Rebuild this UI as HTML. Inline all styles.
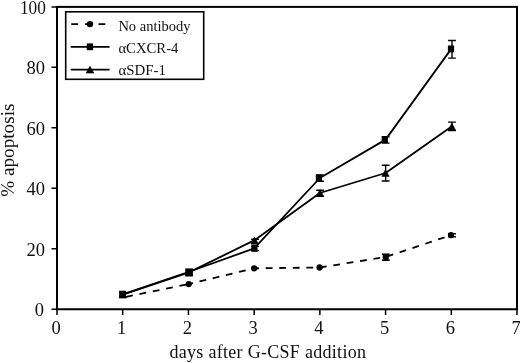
<!DOCTYPE html>
<html lang="en"><head><meta charset="utf-8"><title>% apoptosis vs days after G-CSF addition</title>
<style>html,body{margin:0;padding:0;background:#fff}svg{display:block}text{font-family:"Liberation Serif",serif;fill:#111}</style></head><body>
<svg width="520" height="363" viewBox="0 0 520 363">
<rect width="520" height="363" fill="#fff"/>
<rect x="57.0" y="6.9" width="460.0" height="302.35" fill="none" stroke="#000" stroke-width="2"/>
<path d="M51.5 309.25H57.0M51.5 248.78H57.0M51.5 188.31H57.0M51.5 127.84H57.0M51.5 67.37H57.0M51.5 6.90H57.0M57.00 309.25V314.9M122.71 309.25V314.9M188.43 309.25V314.9M254.14 309.25V314.9M319.86 309.25V314.9M385.57 309.25V314.9M451.29 309.25V314.9M517.00 309.25V314.9" stroke="#000" stroke-width="1.5" fill="none"/>
<g font-size="18.5" text-anchor="end">
<text x="43.9" y="316.35">0</text>
<text x="45.1" y="255.88">20</text>
<text x="45.1" y="195.41">40</text>
<text x="45.1" y="134.94">60</text>
<text x="45.1" y="74.47">80</text>
<text x="45.9" y="13.60" textLength="26" lengthAdjust="spacingAndGlyphs">100</text>
</g>
<g font-size="18.5" text-anchor="middle">
<text x="56.00" y="333.8">0</text>
<text x="121.71" y="333.8">1</text>
<text x="187.43" y="333.8">2</text>
<text x="253.14" y="333.8">3</text>
<text x="318.86" y="333.8">4</text>
<text x="384.57" y="333.8">5</text>
<text x="450.29" y="333.8">6</text>
<text x="516.00" y="333.8">7</text>
</g>
<text x="169.5" y="357.7" font-size="18" textLength="196.5" lengthAdjust="spacing">days after G-CSF addition</text>
<text transform="translate(13.9 196.8) rotate(-90)" font-size="18.5" textLength="93.3" lengthAdjust="spacingAndGlyphs">% apoptosis</text>
<rect x="65.7" y="11.8" width="138" height="67.5" fill="#fff" stroke="#000" stroke-width="1.6"/>
<path d="M71.3 24.1H110" stroke="#000" stroke-width="1.7" stroke-dasharray="6.8 6.8" fill="none"/>
<circle cx="90" cy="24.1" r="3.2"/>
<path d="M70.7 46.8H109.6M70.7 69.6H109.6" stroke="#000" stroke-width="1.7" fill="none"/>
<rect x="86.8" y="43.4" width="6.3" height="6.8"/>
<path d="M90 66.2L93.8 73H86.2Z" stroke="#000" stroke-width="0.6"/>
<g font-size="14.5">
<text x="118.4" y="30.8" textLength="72" lengthAdjust="spacingAndGlyphs">No antibody</text>
<text x="118.4" y="52.9" textLength="60" lengthAdjust="spacingAndGlyphs">αCXCR-4</text>
<text x="118.4" y="75.2" textLength="47.5" lengthAdjust="spacingAndGlyphs">αSDF-1</text>
</g>
<path d="M255.10 246.4V250.6M251.20 246.4h7.8M251.20 250.6h7.8M255.10 239.2V243.7M251.20 239.2h7.8M251.20 243.7h7.8M320.05 175.0V181.3M316.15 175.0h7.8M316.15 181.3h7.8M320.05 190.3V196.4M316.15 190.3h7.8M316.15 196.4h7.8M385.65 136.8V143.1M381.75 136.8h7.8M381.75 143.1h7.8M385.65 165.3V181.0M381.75 165.3h7.8M381.75 181.0h7.8M452.00 40.5V58.1M448.10 40.5h7.8M448.10 58.1h7.8M452.00 122.1V130.6M448.10 122.1h7.8M448.10 130.6h7.8M452.00 233.8V236.7M448.10 233.8h7.8M448.10 236.7h7.8" stroke="#000" stroke-width="1.4" fill="none"/>
<path d="M385.8 254.3V260.1M381.9 254.3h7.8M381.9 260.1h7.8" stroke="#000" stroke-width="1.8" fill="none"/>
<path d="M122.71 297.5L188.43 284.1" stroke="#000" stroke-width="1.8" stroke-dasharray="6.8 6.8" stroke-dashoffset="10.1" fill="none"/>
<polyline points="188.43,284.1 254.14,268.3 319.86,267.5 385.57,257.0 451.29,235.1" stroke="#000" stroke-width="1.8" stroke-dasharray="6.8 6.75" stroke-dashoffset="2.15" fill="none"/>
<polyline points="122.71,294.6 188.43,272.6 254.14,240.4 319.86,193.0 385.57,173.0 451.29,126.7" stroke="#000" stroke-width="1.8" fill="none" stroke-linejoin="round"/>
<polyline points="122.71,294.3 188.43,272.0 254.14,248.4 319.86,178.0 385.57,139.6 451.29,48.9" stroke="#000" stroke-width="1.8" fill="none" stroke-linejoin="round"/>
<circle cx="188.7" cy="284.1" r="3.15"/>
<circle cx="254.15" cy="268.3" r="3.15"/>
<circle cx="319.6" cy="267.5" r="3.15"/>
<circle cx="385.8" cy="257.0" r="3.15"/>
<circle cx="451.0" cy="235.1" r="3.15"/>
<path d="M122.90 291.20L126.60 298.00H119.20Z" stroke="#000" stroke-width="0.6"/>
<path d="M188.90 269.20L192.60 276.00H185.20Z" stroke="#000" stroke-width="0.6"/>
<path d="M254.60 237.00L258.30 243.80H250.90Z" stroke="#000" stroke-width="0.6"/>
<path d="M320.00 189.60L323.70 196.40H316.30Z" stroke="#000" stroke-width="0.6"/>
<path d="M385.50 169.60L389.20 176.40H381.80Z" stroke="#000" stroke-width="0.6"/>
<path d="M451.85 123.30L455.55 130.10H448.15Z" stroke="#000" stroke-width="0.6"/>
<rect x="119.1" y="290.7" width="6.8" height="7.4"/>
<rect x="185.2" y="268.4" width="7.7" height="7.9"/>
<rect x="251.35" y="245.00" width="6.2" height="6.8"/>
<rect x="315.80" y="174.60" width="6.2" height="6.8"/>
<rect x="381.70" y="136.20" width="6.2" height="6.8"/>
<rect x="447.90" y="45.50" width="6.2" height="6.8"/>
</svg></body></html>
